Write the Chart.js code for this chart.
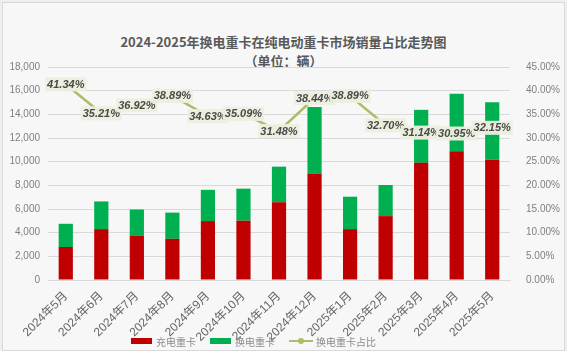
<!DOCTYPE html>
<html><head><meta charset="utf-8">
<script src="https://cdn.jsdelivr.net/npm/chart.js@4.4.1/dist/chart.umd.min.js"></script>
<style>
html,body{margin:0;padding:0;background:#efefef;}
#wrap{position:absolute;left:2px;top:2px;width:561px;height:347px;border:1px solid #d9d9d9;background:#f7f7f7;}
#c{position:absolute;left:0;top:0;}
.title{position:absolute;left:0;width:567px;text-align:center;font-family:"Noto Sans CJK SC",sans-serif;font-weight:bold;color:#595959;font-size:13px;line-height:16px;}
#legend{position:absolute;left:131px;top:334px;height:14px;display:flex;align-items:center;font-family:"Noto Sans CJK SC",sans-serif;font-size:10px;color:#8a8a8a;}
.item{display:flex;align-items:center;margin-right:14px;}
.box{width:21px;height:6px;margin-right:4px;}
.lk{position:relative;width:24px;height:2px;margin-right:3px;}
.lk span{position:absolute;left:9px;top:-2px;width:6px;height:6px;border-radius:3px;}
</style></head>
<body>
<div id="wrap"></div>
<div class="title" style="top:34px;">2024-2025年换电重卡在纯电动重卡市场销量占比走势图</div>
<div class="title" style="top:53px;">（单位：辆）</div>
<canvas id="c" width="567" height="351"></canvas>
<div id="legend"></div>
<script>
const categories = ['2024年5月','2024年6月','2024年7月','2024年8月','2024年9月','2024年10月','2024年11月','2024年12月','2025年1月','2025年2月','2025年3月','2025年4月','2025年5月'];
const chargeTrucks = [2790, 4300, 3760, 3480, 4980, 5010, 6560, 9000, 4300, 5400, 9900, 10870, 10190];
const swapTrucks = [1960, 2340, 2200, 2215, 2640, 2710, 3020, 5620, 2740, 2630, 4480, 4870, 4830];
const swapShare = [41.34, 35.21, 36.92, 38.89, 34.63, 35.09, 31.48, 38.44, 38.89, 32.70, 31.14, 30.95, 32.15];
const seriesNames = ['充电重卡','换电重卡','换电重卡占比'];
const leftTicks = [0,2000,4000,6000,8000,10000,12000,14000,16000,18000];
const rightTicks = [0,5,10,15,20,25,30,35,40,45];

const RED='#C00000', GREEN='#00B050', OLIVE='#A9BF66';
const numFont = '"Liberation Sans","Noto Sans CJK SC",sans-serif';

const labelPlugin = {
  id:'shareLabels',
  afterDatasetsDraw(chart){
    const ctx = chart.ctx;
    const meta = chart.getDatasetMeta(2);
    ctx.save();
    ctx.font = 'italic bold 11px "Liberation Sans",sans-serif';
    ctx.textAlign='center'; ctx.textBaseline='middle';
    meta.data.forEach((pt,i)=>{
      const txt = swapShare[i].toFixed(2)+'%';
      const w = ctx.measureText(txt).width + 4;
      const h = 14;
      ctx.fillStyle = 'rgba(236,239,222,0.95)';
      ctx.fillRect(pt.x - w/2, pt.y - h/2, w, h);
      ctx.fillStyle = '#4a4a4a';
      ctx.fillText(txt, pt.x, pt.y+0.5);
    });
    ctx.restore();
  }
};

new Chart(document.getElementById('c'), {
  data:{
    labels: categories,
    datasets:[
      {type:'bar', label:seriesNames[0], data:chargeTrucks, backgroundColor:RED, yAxisID:'y', stack:'s', order:1, categoryPercentage:1.0, barPercentage:0.4},
      {type:'bar', label:seriesNames[1], data:swapTrucks, backgroundColor:GREEN, yAxisID:'y', stack:'s', order:1, categoryPercentage:1.0, barPercentage:0.4},
      {type:'line', label:seriesNames[2], data:swapShare, borderColor:OLIVE, backgroundColor:OLIVE, borderWidth:2.5, pointRadius:3, pointBackgroundColor:OLIVE, pointBorderColor:OLIVE, yAxisID:'y2', order:0, tension:0}
    ]
  },
  options:{
    responsive:false, animation:false,
    layout:{padding:{left:3,right:3,top:67,bottom:0}},
    plugins:{legend:{display:false}, title:{display:false}, tooltip:{enabled:false}},
    scales:{
      x:{
        stacked:true,
        grid:{display:false},
        border:{display:true,color:'#d9d9d9'},
        ticks:{color:'#666666',font:{family:numFont,size:12},maxRotation:45,minRotation:45,padding:1,autoSkip:false},
        afterFit(s){s.height=71;}
      },
      y:{
        position:'left', stacked:true, min:0, max:18000,
        afterBuildTicks(s){s.ticks = leftTicks.map(v=>({value:v}));},
        grid:{color:'#d9d9d9',drawTicks:false},
        border:{display:false},
        ticks:{color:'#7f7f7f',font:{family:numFont,size:10},padding:8},
        afterFit(s){s.width=45;}
      },
      y2:{
        position:'right', min:0, max:45,
        afterBuildTicks(s){s.ticks = rightTicks.map(v=>({value:v}));},
        grid:{display:false},
        border:{display:false},
        ticks:{color:'#7f7f7f',font:{family:numFont,size:10},padding:8,callback:v=>v.toFixed(2)+'%'},
        afterFit(s){s.width=54;}
      }
    }
  },
  plugins:[labelPlugin]
});

const lg = document.getElementById('legend');
const cols=[RED,GREEN,OLIVE];
seriesNames.forEach((n,i)=>{
  const it=document.createElement('div'); it.className='item';
  if(i<2){ it.innerHTML='<div class="box" style="background:'+cols[i]+'"></div>'; }
  else { it.innerHTML='<div class="lk" style="background:'+cols[i]+'"><span style="background:'+cols[i]+'"></span></div>'; }
  const t=document.createElement('span'); t.textContent=n; it.appendChild(t);
  lg.appendChild(it);
});
</script>
</body></html>
